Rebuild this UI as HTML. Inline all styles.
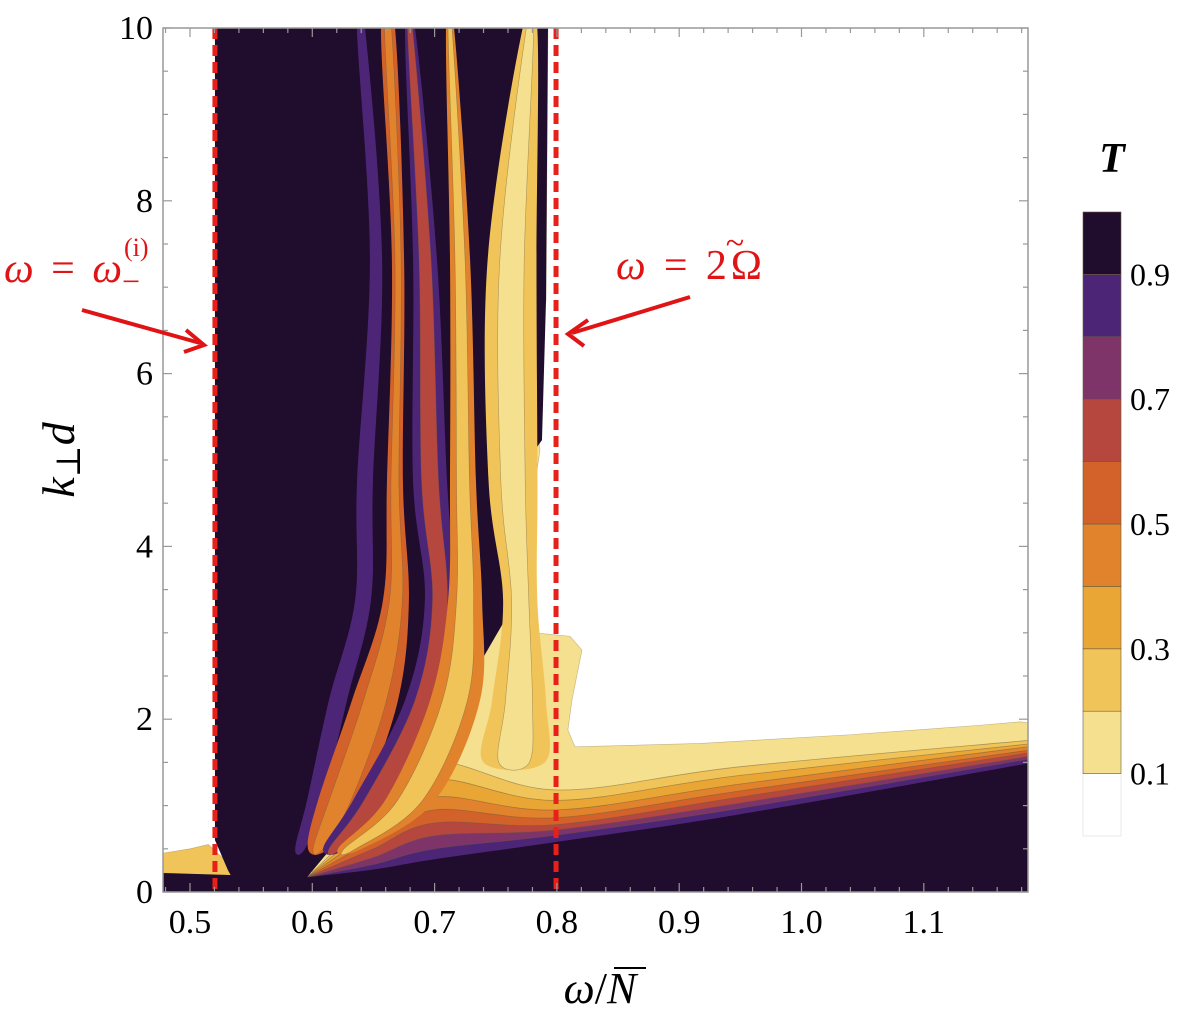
<!DOCTYPE html>
<html><head><meta charset="utf-8"><style>
html,body{margin:0;padding:0;background:#fff;}
svg{display:block;}
text{font-family:"Liberation Serif","DejaVu Serif",serif;}
</style></head><body>
<svg id="chart" width="1200" height="1024" viewBox="0 0 1200 1024" xmlns="http://www.w3.org/2000/svg">
<g id="plot"></g>
<g id="axes"></g>
<g id="cbar"></g>
<text x="0" y="0" transform="translate(74,460) rotate(-90)" text-anchor="middle" font-size="46" font-style="italic">k<tspan font-style="normal" font-size="34" dy="6">⊥</tspan><tspan dy="-6">d</tspan></text>
<text x="600" y="1003" text-anchor="middle" font-size="44"><tspan font-style="italic">ω</tspan>/<tspan font-style="italic">N</tspan></text>
<line x1="614" y1="968" x2="646" y2="968" stroke="#000" stroke-width="2"/>
<text x="1112" y="172" text-anchor="middle" font-size="42" font-weight="bold" font-style="italic">T</text>
<g fill="#e01414">
<text x="4" y="282" font-size="42" textLength="118" lengthAdjust="spacing"><tspan font-style="italic">ω</tspan> = <tspan font-style="italic">ω</tspan></text>
<text x="124" y="256" font-size="26">(i)</text>
<text x="122" y="292" font-size="32">−</text>
</g>
<g fill="#e01414">
<text x="616" y="279" font-size="42" textLength="146" lengthAdjust="spacing"><tspan font-style="italic">ω</tspan> = 2Ω</text>
<text x="735" y="254" font-size="34" text-anchor="middle">~</text>
</g>
<g stroke="#e01414" stroke-width="4" fill="none">
<line x1="82" y1="310" x2="200" y2="343"/>
<polyline points="186,330 204,345 184,352"/>
<line x1="690" y1="297" x2="572" y2="333"/>
<polyline points="588,320 568,334 584,346"/>
</g>
</svg>
<script>
// ---- data ----
const levelColors = ["#ffffff","#f5e08f","#f0c458","#eaa634","#e0832c","#d2622a","#b5473f","#7e3468","#4d2577","#200c2c"];
const cbarLabels = ["0.1","0.3","0.5","0.7","0.9"];
const cbarLabelValues = [0.1,0.3,0.5,0.7,0.9];
const xTicks = [0.5,0.6,0.7,0.8,0.9,1.0,1.1];
const xTickLabels = ["0.5","0.6","0.7","0.8","0.9","1.0","1.1"];
const yTicks = [0,2,4,6,8,10];
const yTickLabels = ["0","2","4","6","8","10"];
const markerLines = [0.5204,0.7993];
// light region (level 0.1-0.2)
const lightOmega = [0.7453,0.7927,0.7911,0.7862,0.7829,0.7862,0.778,0.7682,0.7633,0.7739,0.8107,0.8205,0.8123,0.809,0.8148,0.917,1.0397,1.146,1.1787,1.19,1.19,0.60,0.60];
const lightK =     [10,10,6.85,6.16,5.46,5.12,4.31,3.5,3.15,3.01,2.96,2.8,2.22,1.875,1.68,1.72,1.82,1.93,1.97,1.95,0,0,5];
// lower band contour boundaries (upper edges of levels 2..9)
const bandOmega = [0.5957,0.65,0.70,0.80,0.95,1.19];
const bandK2 = [0.17,0.9,1.5,1.18,1.45,1.76];
const bandK3 = [0.17,0.8,1.3,1.06,1.35,1.72];
const bandK4 = [0.17,0.7,1.1,0.95,1.25,1.69];
const bandK5 = [0.17,0.6,0.95,0.86,1.17,1.65];
const bandK6 = [0.17,0.5,0.8,0.78,1.1,1.62];
const bandK7 = [0.17,0.4,0.65,0.72,1.03,1.58];
const bandK8 = [0.17,0.32,0.5,0.66,0.97,1.55];
const bandK9 = [0.17,0.26,0.38,0.58,0.9,1.50];
// dark fan region
const fanOmega = [0.5204,0.7927,0.7911,0.7878,0.7698,0.7641,0.7576,0.7289,0.6962,0.6554,0.6145,0.5957,0.590,0.5409,0.5311,0.5204];
const fanK =     [10,10,6.85,5.23,4.88,3.84,3.15,2.45,1.76,1.06,0.49,0.17,0,0,0.25,0.6];
// small left tongue
const leftOmega = [0.478,0.50,0.515,0.53,0.545,0.478];
const leftK = [0.45,0.5,0.55,0.35,0.18,0.22];
// stripes: centres (omega), half-widths (omega) at k samples
const stripeK = [10,7.31,4.77,3.38,2.22,1.06,0.5];
const p1Omega = [0.6398,0.6521,0.6431,0.6415,0.621,0.6022,0.590];
const p1Half = [0.0033,0.005,0.0065,0.0065,0.0074,0.0065,0.004];
const o1Omega = [0.6619,0.6701,0.6676,0.6684,0.6513,0.6227,0.6047];
const o1Half = [0.0057,0.005,0.0065,0.0106,0.0188,0.018,0.0082];
const r1Omega = [0.6799,0.6922,0.6962,0.7044,0.6922,0.6513,0.6186];
const r1Half = [0.0041,0.0098,0.0139,0.0123,0.0164,0.018,0.0098];
const y1Omega = [0.7126,0.7208,0.7232,0.7249,0.7167,0.6799,0.6308];
const y1Half = [0.0033,0.0082,0.0106,0.0139,0.0204,0.0204,0.0098];
const l1K = [10,7.31,4.77,3.38,2.22,1.5];
const l1Omega = [0.778,0.7633,0.7641,0.7700,0.7690,0.765];
const l1Half = [0.006,0.02,0.02,0.014,0.022,0.025];

// ---- axes ----
const X0=163, X1=1028, Y0=28, Y1=892;
const xS = w => 190 + (w-0.5)*1223;
const yS = k => 892 - k*86.4;
const NS="http://www.w3.org/2000/svg";
function mk(parent, tag, attrs){const e=document.createElementNS(NS,tag);for(const a in attrs)e.setAttribute(a,attrs[a]);parent.appendChild(e);return e;}
function smoothPath(pts, closed){
  const n=pts.length; let d="M"+pts[0][0].toFixed(1)+","+pts[0][1].toFixed(1);
  for(let i=0;i<n-(closed?0:1);i++){
    const p0=pts[(i-1+n)%n], p1=pts[i], p2=pts[(i+1)%n], p3=pts[(i+2)%n];
    const a = (!closed&&i===0)?p1:p0, b=(!closed&&i+2>=n)?p2:p3;
    const c1=[p1[0]+(p2[0]-a[0])/6,p1[1]+(p2[1]-a[1])/6], c2=[p2[0]-(b[0]-p1[0])/6,p2[1]-(b[1]-p1[1])/6];
    d+=" C"+c1[0].toFixed(1)+","+c1[1].toFixed(1)+" "+c2[0].toFixed(1)+","+c2[1].toFixed(1)+" "+p2[0].toFixed(1)+","+p2[1].toFixed(1);
  }
  return d+(closed?"Z":"");
}
const plot=document.getElementById('plot');
const cp=mk(plot,'clipPath',{id:'clip'});
mk(cp,'rect',{x:X0,y:Y0,width:X1-X0,height:Y1-Y0});
const g=mk(plot,'g',{'clip-path':'url(#clip)'});

function poly(os,ks,color,name){
  const pts=os.map((o,i)=>[xS(o),yS(ks[i])]);
  const p=mk(g,'polygon',{points:pts.map(p=>p.join(',')).join(' '),fill:color,stroke:'#8a7a50','stroke-width':0.6,'stroke-opacity':0.5});
  
  
  return p;
}
poly(lightOmega,lightK,levelColors[1],'region-level-0-1');
poly(leftOmega,leftK,levelColors[2],'region-left-tongue');
const bands=[bandK2,bandK3,bandK4,bandK5,bandK6,bandK7,bandK8];
bands.forEach((bk,i)=>{
  const pts=bandOmega.map((o,j)=>[xS(o),yS(bk[j])]);
  let d=smoothPath(pts,false)+" L"+xS(1.19)+","+yS(0)+" L"+xS(0.5957)+","+yS(0)+"Z";
  const p=mk(g,'path',{d:d,fill:levelColors[i+2],stroke:'#6a5a40','stroke-width':0.8,'stroke-opacity':0.5});
  
  
});
{
  const pts=fanOmega.map((o,i)=>[xS(o),yS(fanK[i])]);
  const p=mk(g,'polygon',{points:pts.map(p=>p.join(',')).join(' '),fill:levelColors[9]});
  
  
}
function stripe(ks,os,hs,outer,inner,name){
  const L=ks.map((k,i)=>[xS(os[i]-hs[i]),yS(k)]), R=ks.map((k,i)=>[xS(os[i]+hs[i]),yS(k)]);
  const pts=L.concat(R.slice().reverse());
  const p=mk(g,'path',{d:smoothPath(pts,true),fill:outer});
  
  
  if(inner){
    const Li=ks.map((k,i)=>[xS(os[i]-hs[i]*0.5),yS(k)]), Ri=ks.map((k,i)=>[xS(os[i]+hs[i]*0.5),yS(k)]);
    const q=mk(g,'path',{d:smoothPath(Li.concat(Ri.slice().reverse()),true),fill:inner,stroke:'#6a5a40','stroke-width':0.6,'stroke-opacity':0.5});
    
    
  }
}
stripe(stripeK,p1Omega,p1Half,levelColors[8],null,'stripe-purple');
stripe(stripeK,o1Omega,o1Half,levelColors[5],levelColors[4],'stripe-orange');
stripe(stripeK,r1Omega,r1Half,levelColors[8],levelColors[6],'stripe-red');
stripe(stripeK,y1Omega,y1Half,levelColors[4],levelColors[2],'stripe-yellow');
stripe(l1K,l1Omega,l1Half,levelColors[2],levelColors[1],'stripe-light');
{
  const pts=bandOmega.map((o,j)=>[xS(o),yS(bandK9[j])]);
  const d="M"+xS(0.478)+","+yS(0.22)+" L"+pts[0][0]+","+pts[0][1]+" "+smoothPath(pts,false).slice(1).replace(/^[^C]*/,'')+" L"+xS(1.19)+","+yS(0)+" L"+xS(0.478)+","+yS(0)+"Z";
  const p=mk(g,'path',{d:d,fill:levelColors[9]});
  
  
}
markerLines.forEach((w,i)=>{
  const l=mk(g,'line',{x1:xS(w),x2:xS(w),y1:Y0,y2:Y1,stroke:'#e8201a','stroke-width':5,'stroke-dasharray':'11 6'});
  
  
});

// frame & ticks
const ax=document.getElementById('axes');
const fr=mk(ax,'rect',{x:X0,y:Y0,width:X1-X0,height:Y1-Y0,fill:'none',stroke:'#999','stroke-width':1.5});


for(let w=0.48;w<=1.19;w+=0.02){
  const x=xS(w); if(x<X0||x>X1)continue;
  const major=Math.abs(w*10-Math.round(w*10))<1e-6;
  const len=major?9:5;
  mk(ax,'line',{x1:x,x2:x,y1:Y1,y2:Y1-len,stroke:'#999','stroke-width':1.2});
  mk(ax,'line',{x1:x,x2:x,y1:Y0,y2:Y0+len,stroke:'#999','stroke-width':1.2});
}
for(let k=0;k<=10;k+=0.5){
  const major=(k%2===0), len=major?9:5, y=yS(k);
  mk(ax,'line',{x1:X0,x2:X0+len,y1:y,y2:y,stroke:'#999','stroke-width':1.2});
  mk(ax,'line',{x1:X1,x2:X1-len,y1:y,y2:y,stroke:'#999','stroke-width':1.2});
}
xTicks.forEach((w,i)=>{
  const t=mk(ax,'text',{x:xS(w),y:933,'text-anchor':'middle','font-size':34});
  t.textContent=xTickLabels[i];
  
  
});
yTicks.forEach((k,i)=>{
  const t=mk(ax,'text',{x:153,y:yS(k)+11,'text-anchor':'end','font-size':34});
  t.textContent=yTickLabels[i];
  
  
});

// colorbar
const cb=document.getElementById('cbar');
const cbTop=212, cbBot=836, cbX=1083, cbW=38;
const cbY = v => cbBot - v*(cbBot-cbTop);
for(let i=0;i<10;i++){
  const r=mk(cb,'rect',{x:cbX,y:cbY((i+1)/10),width:cbW,height:cbY(i/10)-cbY((i+1)/10),fill:levelColors[i],stroke:i===0?'#ddd':'#6a5a40','stroke-width':0.6});
  
  
}
cbarLabelValues.forEach((v,i)=>{
  const t=mk(cb,'text',{x:1130,y:cbY(v)+11,'font-size':32});
  t.textContent=cbarLabels[i];
  
  
});
</script>
</body></html>
